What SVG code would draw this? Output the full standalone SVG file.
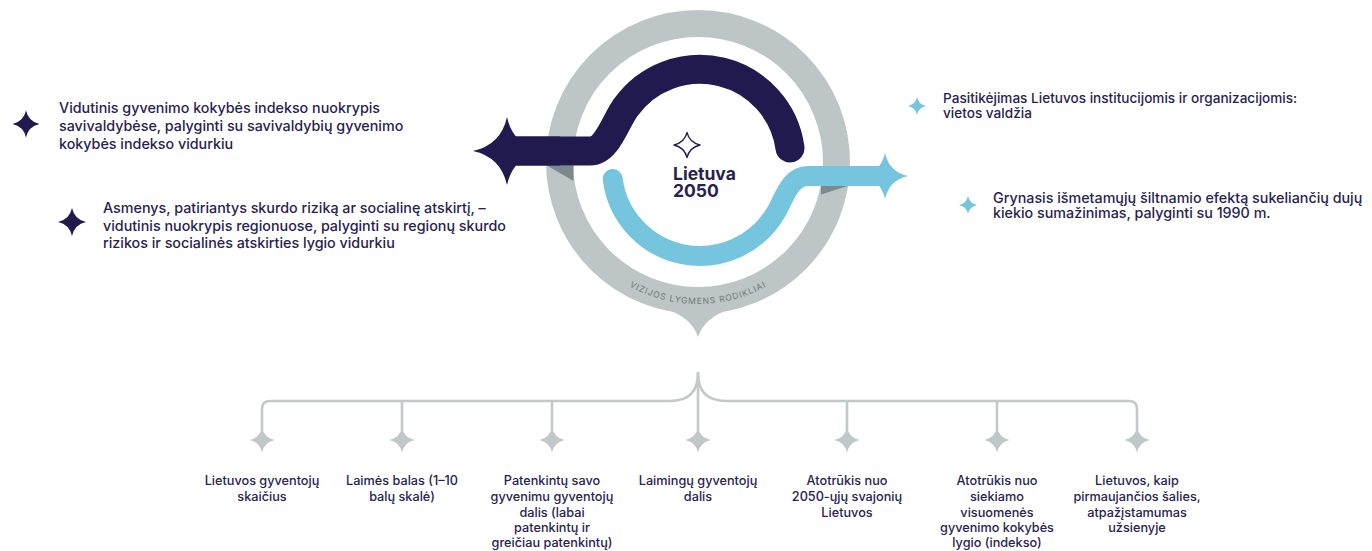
<svg xmlns="http://www.w3.org/2000/svg" xmlns:xlink="http://www.w3.org/1999/xlink" width="1372" height="551" viewBox="0 0 1372 551">
<style>
.t{font-family:Inter,"Liberation Sans",Arial,sans-serif;fill:#27234f;font-weight:500}
.l14{font-size:14.3px}
.r1{font-size:13.6px}
.r2{font-size:14.3px}
.b{font-size:12.7px;text-anchor:middle}
.navy{fill:#201a4f}
.blue{fill:#76c5de}
.grey{fill:#c0c7c8}
.conn{fill:none;stroke:#c3c9cb;stroke-width:2.6;stroke-linecap:round;stroke-linejoin:round}
</style>
<defs>
<path id="star" d="M0,-1 Q0.18,-0.18 1,0 Q0.18,0.18 0,1 Q-0.18,0.18 -1,0 Q-0.18,-0.18 0,-1 Z"/>
<path id="ringtext" d="M575,233 A142,142 0 0 0 821,233"/>
</defs>

<g id="hub">
<circle cx="698" cy="162" r="138.5" fill="none" stroke="#bec5c6" stroke-width="27"/>
<path d="M666,309 Q692,318 698,337 Q704,318 730,309 L698,300 Z" fill="#bec5c6"/>
<path d="M547,165.5 L573.5,165.5 L573.5,181 Z" fill="#7d898c"/>
<path d="M821,186 L847.5,186 L821,194.5 Z" fill="#7d898c"/>
<text font-family="Inter,'Liberation Sans',Arial,sans-serif" font-size="8.5" fill="#6e7679" letter-spacing="0.95"><textPath xlink:href="#ringtext" href="#ringtext" startOffset="50%" text-anchor="middle">VIZIJOS LYGMENS RODIKLIAI</textPath></text>
<path d="M505,151 L590,151 C607,151 615,122.5 625.5,107.8 A91,91 0 0 1 790,148" fill="none" stroke="#201a4f" stroke-width="29" stroke-linecap="round"/>
<path d="M505,151 L560,151" fill="none" stroke="#201a4f" stroke-width="29"/>
<use href="#star" xlink:href="#star" class="navy" transform="translate(507,151) scale(34)"/>
<path d="M612.7,179 A88,88 0 0 0 776.2,212 C784.2,198.1 790,176 808,176 L880,176" fill="none" stroke="#76c5de" stroke-width="20" stroke-linecap="round"/>
<use href="#star" xlink:href="#star" class="blue" transform="translate(885,176) scale(23)"/>
<path d="M687,132.5 Q689.5,142.5 700,145 Q689.5,147.5 687,157.5 Q684.5,147.5 674,145 Q684.5,142.5 687,132.5 Z" fill="none" stroke="#201a4f" stroke-width="1.3" stroke-linejoin="round"/>
<text class="t" font-size="17.5" style="font-weight:700"><tspan x="673" y="180">Lietuva</tspan><tspan x="673" y="196.5">2050</tspan></text>
</g>

<g id="connectors">
<path class="conn" d="M262,430 V409 Q262,401 270,401 H670 Q698,401 698,373 Q698,401 726,401 H1129 Q1137,401 1137,409 V430"/>
<path class="conn" d="M402,401 V430 M552,401 V430 M698,373 V430 M847,401 V430 M997,401 V430"/>
</g>

<g id="node-left-1">
<use href="#star" xlink:href="#star" class="navy" transform="translate(26,124) scale(13.5)"/>
<text class="t l14" x="59" y="113">Vidutinis gyvenimo kokybės indekso nuokrypis</text>
<text class="t l14" x="59" y="131">savivaldybėse, palyginti su savivaldybių gyvenimo</text>
<text class="t l14" x="59" y="148.5">kokybės indekso vidurkiu</text>
</g>
<g id="node-left-2">
<use href="#star" xlink:href="#star" class="navy" transform="translate(72,222) scale(14)"/>
<text class="t l14" x="103" y="212.7">Asmenys, patiriantys skurdo riziką ar socialinę atskirtį, –</text>
<text class="t l14" x="103" y="230.7">vidutinis nuokrypis regionuose, palyginti su regionų skurdo</text>
<text class="t l14" x="103" y="248.3">rizikos ir socialinės atskirties lygio vidurkiu</text>
</g>
<g id="node-right-1">
<use href="#star" xlink:href="#star" class="blue" transform="translate(917,106) scale(9)"/>
<text class="t r1" x="943" y="102.7">Pasitikėjimas Lietuvos institucijomis ir organizacijomis:</text>
<text class="t r1" x="943" y="117.7">vietos valdžia</text>
</g>
<g id="node-right-2">
<use href="#star" xlink:href="#star" class="blue" transform="translate(968,205) scale(9)"/>
<text class="t r2" x="993" y="202.7">Grynasis išmetamųjų šiltnamio efektą sukeliančių dujų</text>
<text class="t r2" x="993" y="217.5">kiekio sumažinimas, palyginti su 1990 m.</text>
</g>

<g id="node-b1">
<use href="#star" xlink:href="#star" class="grey" transform="translate(262,440) scale(12.5)"/>
<text class="t b" x="262" y="485">Lietuvos gyventojų</text>
<text class="t b" x="262" y="501">skaičius</text>
</g>
<g id="node-b2">
<use href="#star" xlink:href="#star" class="grey" transform="translate(402,440) scale(12.5)"/>
<text class="t b" x="402" y="485">Laimės balas (1–10</text>
<text class="t b" x="402" y="501">balų skalė)</text>
</g>
<g id="node-b3">
<use href="#star" xlink:href="#star" class="grey" transform="translate(552,440) scale(12.5)"/>
<text class="t b" x="552" y="485">Patenkintų savo</text>
<text class="t b" x="552" y="501">gyvenimu gyventojų</text>
<text class="t b" x="552" y="516.5">dalis (labai</text>
<text class="t b" x="552" y="532">patenkintų ir</text>
<text class="t b" x="552" y="547">greičiau patenkintų)</text>
</g>
<g id="node-b4">
<use href="#star" xlink:href="#star" class="grey" transform="translate(698,440) scale(12.5)"/>
<text class="t b" x="698" y="485">Laimingų gyventojų</text>
<text class="t b" x="698" y="501">dalis</text>
</g>
<g id="node-b5">
<use href="#star" xlink:href="#star" class="grey" transform="translate(847,440) scale(12.5)"/>
<text class="t b" x="847" y="485">Atotrūkis nuo</text>
<text class="t b" x="847" y="501">2050-ųjų svajonių</text>
<text class="t b" x="847" y="516.5">Lietuvos</text>
</g>
<g id="node-b6">
<use href="#star" xlink:href="#star" class="grey" transform="translate(997,440) scale(12.5)"/>
<text class="t b" x="997" y="485">Atotrūkis nuo</text>
<text class="t b" x="997" y="501">siekiamo</text>
<text class="t b" x="997" y="516.5">visuomenės</text>
<text class="t b" x="997" y="532">gyvenimo kokybės</text>
<text class="t b" x="997" y="547">lygio (indekso)</text>
</g>
<g id="node-b7">
<use href="#star" xlink:href="#star" class="grey" transform="translate(1137,440) scale(12.5)"/>
<text class="t b" x="1137" y="485">Lietuvos, kaip</text>
<text class="t b" x="1137" y="501">pirmaujančios šalies,</text>
<text class="t b" x="1137" y="516.5">atpažįstamumas</text>
<text class="t b" x="1137" y="532">užsienyje</text>
</g>
</svg>
